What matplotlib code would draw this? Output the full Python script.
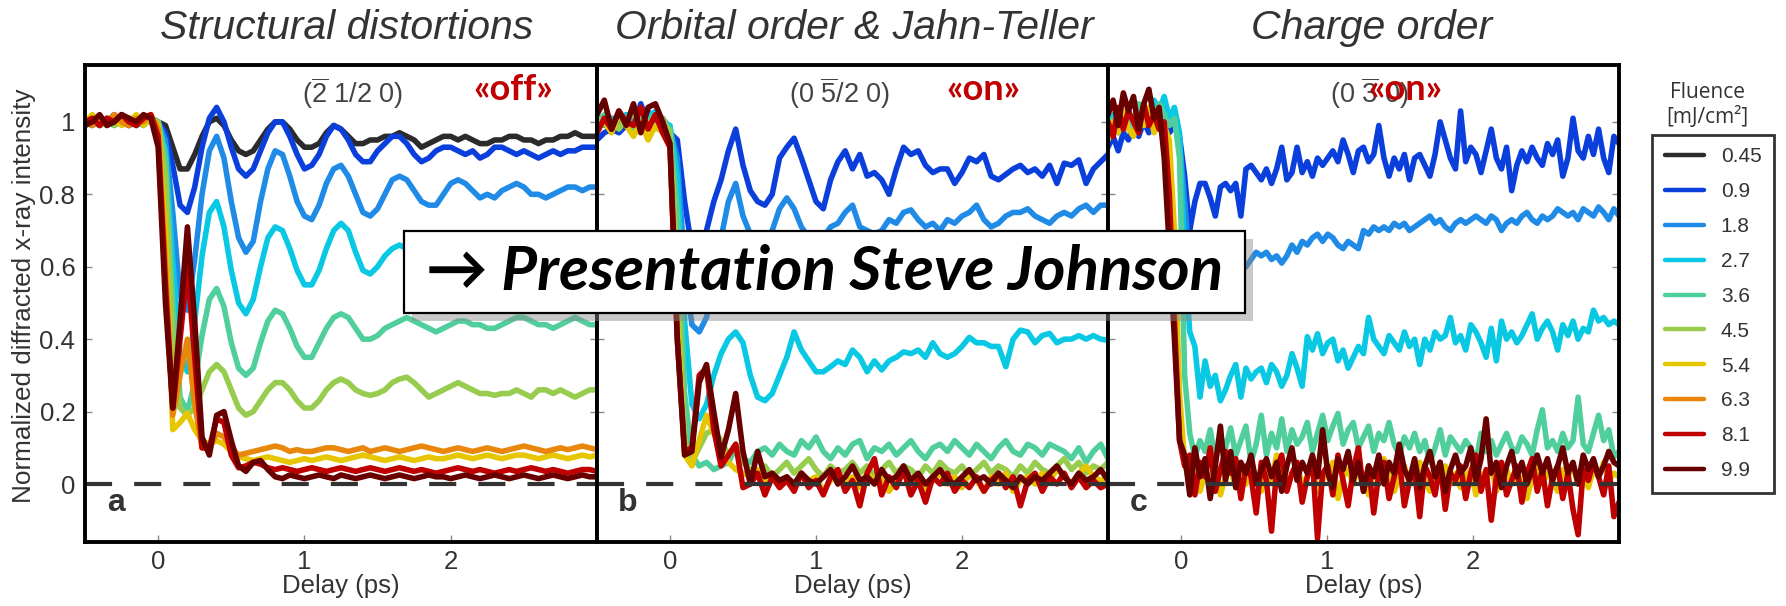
import numpy as np
import matplotlib
matplotlib.use("Agg")
import matplotlib.pyplot as plt
from matplotlib.lines import Line2D
from matplotlib.patches import Rectangle
import matplotlib.patheffects as pe

plt.rcParams["font.family"] = ["Liberation Sans", "DejaVu Sans"]
plt.rcParams["mathtext.fontset"] = "custom"
plt.rcParams["mathtext.rm"] = "Liberation Sans"
plt.rcParams["mathtext.it"] = "Liberation Sans:italic"
plt.rcParams["mathtext.bf"] = "Liberation Sans:bold"

W, H = 1786, 606
XLIM = (-0.5, 3.0)
YLIM = (-0.16, 1.157)

FLUENCE = ["0.45", "0.9", "1.8", "2.7", "3.6", "4.5", "5.4", "6.3", "8.1", "9.9"]
COLORS = ["#2b2b2b", "#0b3fdc", "#1f8be6", "#09c8e3", "#50cf9d",
          "#98cc4f", "#e6c600", "#e8870a", "#bf0000", "#680000"]

# panel a: delay -0.5 .. 3.0 ps, step 0.05
A_045 = [1.00, 0.99, 1.01, 1.00, 1.00, 1.01, 0.99, 1.00, 1.01, 1.01, 1.00,
         0.99, 0.93, 0.87, 0.87, 0.91, 0.96, 1.00, 1.01, 0.99, 0.95,
         0.92, 0.91, 0.92, 0.95, 0.98, 1.00, 1.00, 0.98, 0.95, 0.93,
         0.93, 0.94, 0.97, 0.99, 0.98, 0.96, 0.94, 0.94, 0.95, 0.95,
         0.96, 0.96, 0.97, 0.96, 0.95, 0.93, 0.94, 0.95, 0.96, 0.96,
         0.95, 0.96, 0.95, 0.94, 0.94, 0.95, 0.95, 0.96, 0.96, 0.95,
         0.95, 0.94, 0.95, 0.95, 0.96, 0.96, 0.97, 0.96, 0.96, 0.96]
A_09 = [1.00, 1.01, 0.99, 1.00, 1.02, 1.00, 0.99, 1.01, 1.00, 1.01, 1.00,
        0.97, 0.88, 0.77, 0.75, 0.82, 0.93, 1.01, 1.04, 1.00, 0.93,
        0.87, 0.85, 0.87, 0.92, 0.97, 1.00, 1.00, 0.96, 0.91, 0.87,
        0.88, 0.91, 0.96, 0.99, 0.98, 0.95, 0.91, 0.89, 0.89, 0.92,
        0.94, 0.96, 0.96, 0.94, 0.91, 0.89, 0.90, 0.92, 0.93, 0.93,
        0.92, 0.91, 0.92, 0.90, 0.91, 0.93, 0.93, 0.92, 0.91, 0.92,
        0.91, 0.90, 0.91, 0.92, 0.91, 0.92, 0.92, 0.93, 0.93, 0.93]
A_18 = [1.01, 1.00, 0.99, 1.01, 1.00, 1.00, 1.01, 0.99, 1.00, 1.01, 1.00,
        0.95, 0.75, 0.52, 0.48, 0.62, 0.80, 0.92, 0.96, 0.90, 0.78,
        0.68, 0.64, 0.67, 0.78, 0.87, 0.92, 0.91, 0.85, 0.78, 0.74,
        0.73, 0.77, 0.83, 0.87, 0.88, 0.85, 0.80, 0.75, 0.74, 0.76,
        0.80, 0.84, 0.85, 0.84, 0.81, 0.78, 0.77, 0.77, 0.80, 0.83,
        0.84, 0.83, 0.81, 0.79, 0.80, 0.79, 0.81, 0.82, 0.83, 0.82,
        0.80, 0.80, 0.79, 0.80, 0.81, 0.82, 0.82, 0.81, 0.82, 0.82]
A_27 = [0.99, 1.00, 1.01, 1.00, 0.99, 1.01, 1.00, 1.00, 0.99, 1.01, 1.00,
        0.92, 0.62, 0.36, 0.31, 0.45, 0.63, 0.75, 0.78, 0.71, 0.59,
        0.50, 0.47, 0.51, 0.60, 0.68, 0.71, 0.70, 0.65, 0.59, 0.55,
        0.55, 0.59, 0.65, 0.70, 0.72, 0.70, 0.64, 0.59, 0.58, 0.60,
        0.63, 0.65, 0.66, 0.65, 0.63, 0.62, 0.63, 0.64, 0.65, 0.65,
        0.64, 0.64, 0.65, 0.64, 0.64, 0.65, 0.65, 0.64, 0.65, 0.65,
        0.64, 0.65, 0.65, 0.66, 0.65, 0.65, 0.66, 0.65, 0.66, 0.66]
A_36 = [1.00, 1.01, 1.00, 0.99, 1.01, 1.00, 1.01, 0.99, 1.00, 1.00, 1.00,
        0.90, 0.50, 0.24, 0.20, 0.28, 0.41, 0.51, 0.54, 0.49, 0.39,
        0.32, 0.30, 0.32, 0.39, 0.45, 0.48, 0.47, 0.43, 0.38, 0.35,
        0.35, 0.39, 0.43, 0.46, 0.47, 0.46, 0.43, 0.40, 0.40, 0.41,
        0.43, 0.44, 0.45, 0.46, 0.45, 0.44, 0.43, 0.42, 0.43, 0.44,
        0.45, 0.45, 0.44, 0.44, 0.43, 0.43, 0.44, 0.45, 0.46, 0.46,
        0.45, 0.44, 0.44, 0.43, 0.44, 0.45, 0.46, 0.45, 0.44, 0.44]
A_45 = [1.01, 1.00, 1.00, 1.01, 0.99, 1.00, 1.01, 1.00, 1.00, 1.01, 1.00,
        0.85, 0.40, 0.21, 0.19, 0.21, 0.26, 0.31, 0.33, 0.31, 0.26,
        0.21, 0.19, 0.20, 0.23, 0.26, 0.28, 0.28, 0.26, 0.23, 0.21,
        0.21, 0.23, 0.26, 0.28, 0.29, 0.28, 0.26, 0.25, 0.245, 0.25,
        0.26, 0.28, 0.29, 0.295, 0.28, 0.26, 0.24, 0.25, 0.26, 0.27,
        0.28, 0.27, 0.26, 0.25, 0.25, 0.245, 0.25, 0.25, 0.26, 0.25,
        0.24, 0.26, 0.26, 0.25, 0.26, 0.25, 0.24, 0.25, 0.26, 0.26]
A_54 = [1.00, 1.02, 0.99, 1.00, 1.01, 0.99, 1.00, 1.02, 0.99, 1.01, 0.99,
        0.70, 0.15, 0.17, 0.195, 0.15, 0.12, 0.11, 0.12, 0.11, 0.09,
        0.075, 0.07, 0.065, 0.07, 0.075, 0.07, 0.065, 0.06, 0.065, 0.07,
        0.065, 0.07, 0.075, 0.07, 0.065, 0.07, 0.075, 0.08, 0.075, 0.07,
        0.065, 0.07, 0.075, 0.07, 0.065, 0.07, 0.075, 0.07, 0.07, 0.075,
        0.08, 0.075, 0.07, 0.075, 0.08, 0.075, 0.07, 0.075, 0.08, 0.08,
        0.075, 0.07, 0.075, 0.08, 0.075, 0.07, 0.075, 0.08, 0.075, 0.08]
A_63 = [1.00, 0.99, 1.01, 1.00, 1.02, 1.00, 0.99, 1.01, 1.00, 1.02, 0.98,
        0.60, 0.19, 0.30, 0.40, 0.22, 0.10, 0.10, 0.14, 0.13, 0.10,
        0.08, 0.085, 0.09, 0.095, 0.10, 0.105, 0.10, 0.09, 0.095, 0.09,
        0.09, 0.095, 0.10, 0.10, 0.095, 0.09, 0.095, 0.10, 0.09, 0.095,
        0.10, 0.095, 0.09, 0.095, 0.10, 0.105, 0.10, 0.095, 0.09, 0.095,
        0.10, 0.095, 0.09, 0.095, 0.10, 0.095, 0.09, 0.095, 0.10, 0.105,
        0.10, 0.095, 0.09, 0.095, 0.10, 0.095, 0.10, 0.105, 0.10, 0.095]
A_81 = [1.00, 1.01, 0.99, 1.01, 1.00, 1.02, 1.00, 0.99, 1.01, 1.02, 0.96,
        0.55, 0.21, 0.40, 0.60, 0.35, 0.10, 0.10, 0.18, 0.17, 0.08,
        0.045, 0.05, 0.06, 0.055, 0.045, 0.04, 0.045, 0.04, 0.035, 0.04,
        0.045, 0.04, 0.035, 0.04, 0.045, 0.04, 0.035, 0.04, 0.045, 0.04,
        0.035, 0.04, 0.045, 0.04, 0.035, 0.04, 0.035, 0.03, 0.035, 0.04,
        0.045, 0.04, 0.035, 0.04, 0.035, 0.03, 0.035, 0.04, 0.035, 0.04,
        0.045, 0.04, 0.035, 0.04, 0.035, 0.03, 0.035, 0.04, 0.04, 0.035]
A_99 = [0.99, 1.00, 1.02, 0.99, 1.00, 1.02, 1.01, 1.00, 1.02, 1.01, 0.93,
        0.50, 0.21, 0.45, 0.71, 0.45, 0.13, 0.08, 0.19, 0.20, 0.12,
        0.05, 0.035, 0.06, 0.065, 0.04, 0.02, 0.015, 0.025, 0.02, 0.015,
        0.02, 0.025, 0.02, 0.015, 0.025, 0.02, 0.015, 0.02, 0.025, 0.02,
        0.015, 0.02, 0.025, 0.02, 0.015, 0.02, 0.025, 0.02, 0.02, 0.015,
        0.02, 0.025, 0.02, 0.015, 0.02, 0.025, 0.02, 0.015, 0.02, 0.025,
        0.02, 0.015, 0.02, 0.025, 0.02, 0.015, 0.02, 0.025, 0.02, 0.02]

# panel b: delay -0.5 .. 3.0 ps, step 0.05
B_09 = [0.95, 0.97, 0.98, 0.97, 0.99, 0.98, 1.05, 0.99, 1.00, 0.98, 0.97,
        0.95, 0.78, 0.65, 0.64, 0.70, 0.78, 0.84, 0.92, 0.98, 0.88,
        0.81, 0.78, 0.77, 0.80, 0.90, 0.93, 0.955, 0.90, 0.84, 0.78,
        0.76, 0.84, 0.89, 0.92, 0.87, 0.91, 0.85, 0.86, 0.84, 0.80,
        0.87, 0.93, 0.91, 0.92, 0.88, 0.86, 0.87, 0.87, 0.83, 0.86,
        0.90, 0.89, 0.91, 0.85, 0.84, 0.855, 0.87, 0.88, 0.86, 0.87,
        0.85, 0.88, 0.83, 0.886, 0.88, 0.895, 0.83, 0.87, 0.89, 0.91]
B_18 = [0.99, 1.00, 1.01, 0.99, 1.02, 1.00, 0.99, 1.03, 1.00, 1.01, 0.98,
        0.90, 0.60, 0.44, 0.42, 0.46, 0.55, 0.68, 0.78, 0.83, 0.74,
        0.69, 0.66, 0.64, 0.70, 0.76, 0.79, 0.76, 0.71, 0.68, 0.66,
        0.68, 0.71, 0.72, 0.75, 0.77, 0.71, 0.70, 0.69, 0.70, 0.73,
        0.72, 0.75, 0.757, 0.73, 0.71, 0.72, 0.70, 0.73, 0.72, 0.74,
        0.75, 0.77, 0.73, 0.71, 0.72, 0.74, 0.75, 0.75, 0.76, 0.74,
        0.73, 0.72, 0.74, 0.75, 0.74, 0.76, 0.77, 0.75, 0.77, 0.77]
B_27 = [1.00, 0.99, 1.01, 1.00, 1.02, 0.99, 1.00, 1.01, 1.03, 1.00, 0.99,
        0.85, 0.45, 0.22, 0.18, 0.22, 0.30, 0.36, 0.40, 0.42, 0.39,
        0.30, 0.24, 0.23, 0.25, 0.30, 0.35, 0.42, 0.37, 0.34, 0.31,
        0.31, 0.324, 0.34, 0.33, 0.37, 0.35, 0.31, 0.34, 0.315, 0.34,
        0.35, 0.365, 0.36, 0.37, 0.35, 0.39, 0.36, 0.35, 0.36, 0.38,
        0.405, 0.39, 0.39, 0.38, 0.38, 0.324, 0.40, 0.425, 0.42, 0.39,
        0.41, 0.416, 0.39, 0.40, 0.40, 0.41, 0.40, 0.41, 0.40, 0.397]
B_36 = [1.00, 1.02, 0.99, 1.01, 1.00, 0.98, 1.01, 1.00, 1.02, 0.99, 0.98,
        0.75, 0.25, 0.08, 0.05, 0.06, 0.04, 0.05, 0.06, 0.10, 0.07,
        0.06, 0.09, 0.10, 0.08, 0.11, 0.09, 0.08, 0.12, 0.10, 0.13,
        0.09, 0.07, 0.10, 0.08, 0.11, 0.12, 0.07, 0.10, 0.09, 0.11,
        0.08, 0.10, 0.12, 0.09, 0.07, 0.10, 0.11, 0.09, 0.12, 0.10,
        0.08, 0.11, 0.09, 0.07, 0.10, 0.12, 0.09, 0.08, 0.11, 0.10,
        0.08, 0.11, 0.10, 0.09, 0.07, 0.10, 0.06, 0.09, 0.11, 0.07]
B_45 = [0.99, 1.01, 1.00, 0.98, 1.01, 1.02, 0.99, 1.00, 0.98, 1.01, 0.97,
        0.60, 0.12, 0.06, 0.10, 0.14, 0.15, 0.12, 0.08, 0.11, 0.06,
        0.04, 0.03, 0.05, 0.02, 0.04, 0.06, 0.03, 0.05, 0.07, 0.04,
        0.02, 0.05, 0.03, 0.04, 0.06, 0.03, 0.05, 0.02, 0.04, 0.06,
        0.03, 0.05, 0.04, 0.02, 0.05, 0.03, 0.06, 0.04, 0.03, 0.05,
        0.02, 0.04, 0.06, 0.03, 0.05, 0.04, 0.02, 0.05, 0.03, 0.06,
        0.04, 0.03, 0.05, 0.07, 0.04, 0.06, 0.03, 0.05, 0.04, 0.06]
B_54 = [0.98, 1.00, 0.97, 1.02, 0.99, 0.96, 1.00, 0.95, 0.99, 0.97, 0.93,
        0.45, 0.08, 0.05, 0.12, 0.19, 0.14, 0.10, 0.06, 0.04, 0.03,
        0.02, 0.04, 0.01, 0.03, 0.00, 0.02, -0.01, 0.03, 0.01, 0.02,
        -0.02, 0.01, 0.03, 0.00, 0.02, -0.01, 0.03, 0.01, 0.02, -0.02,
        0.01, 0.03, 0.00, 0.02, -0.02, 0.01, 0.03, 0.00, 0.02, -0.01,
        0.03, 0.01, -0.02, 0.02, 0.00, 0.03, -0.02, 0.01, 0.02, 0.00,
        0.03, 0.01, 0.04, 0.02, 0.00, 0.03, 0.05, 0.02, 0.01, 0.02]
B_81 = [0.97, 1.01, 0.98, 1.03, 1.00, 0.99, 1.04, 0.98, 1.02, 0.97, 0.93,
        0.40, 0.09, 0.10, 0.30, 0.32, 0.15, 0.05, 0.08, 0.11, -0.01,
        0.00, 0.03, -0.03, 0.02, -0.01, 0.01, -0.02, 0.03, -0.01, 0.01,
        -0.03, 0.02, 0.04, -0.02, 0.01, -0.06, 0.03, 0.07, -0.03, 0.02,
        -0.01, 0.04, -0.03, 0.01, -0.05, 0.02, 0.00, 0.03, -0.02, 0.01,
        -0.01, 0.02, -0.02, 0.01, 0.03, -0.01, 0.02, -0.06, 0.01, 0.03,
        -0.02, 0.02, 0.00, 0.03, -0.01, 0.02, -0.01, 0.01, -0.01, 0.00]
B_99 = [1.02, 1.06, 0.98, 1.03, 0.99, 1.05, 0.97, 1.04, 1.05, 1.00, 0.94,
        0.40, 0.08, 0.09, 0.28, 0.33, 0.20, 0.075, 0.15, 0.25, 0.09,
        0.00, 0.09, 0.02, 0.03, 0.01, 0.02, 0.00, 0.03, 0.01, 0.00,
        0.02, 0.04, 0.00, 0.02, 0.05, 0.01, 0.02, 0.00, 0.04, 0.01,
        0.02, 0.05, 0.01, 0.03, 0.00, 0.02, 0.04, 0.01, 0.00, 0.02,
        0.04, 0.01, 0.02, 0.00, 0.03, 0.01, -0.01, 0.02, 0.00, 0.02,
        0.01, 0.03, 0.05, 0.02, 0.00, 0.03, 0.01, 0.02, 0.04, 0.01]

# panel c: delay -0.5 .. 3.0 ps, step 0.035
C_09 = [0.93, 0.96, 0.92, 0.97, 0.95, 0.99, 0.96, 1.00, 0.97, 1.02,
        0.98, 1.01, 0.97, 0.99, 0.96, 0.85, 0.70, 0.78, 0.83, 0.83,
        0.79, 0.74, 0.82, 0.83, 0.81, 0.83, 0.74, 0.87, 0.88, 0.86,
        0.84, 0.87, 0.83, 0.87, 0.93, 0.84, 0.86, 0.93, 0.86, 0.89,
        0.85, 0.90, 0.88, 0.90, 0.92, 0.89, 0.95, 0.91, 0.86, 0.92,
        0.93, 0.89, 0.91, 0.99, 0.90, 0.85, 0.90, 0.87, 0.91, 0.84,
        0.90, 0.91, 0.88, 0.85, 0.91, 1.00, 0.95, 0.90, 0.87, 1.03,
        0.89, 0.93, 0.91, 0.86, 0.92, 0.98, 0.90, 0.87, 0.93, 0.81,
        0.88, 0.92, 0.89, 0.93, 0.90, 0.88, 0.94, 0.91, 0.95, 0.85,
        0.90, 1.01, 0.92, 0.90, 0.96, 0.91, 0.98, 0.90, 0.86, 0.96,
        0.94]
C_18 = [0.98, 1.00, 0.97, 1.02, 0.99, 1.01, 0.98, 1.03, 1.00, 1.04,
        1.01, 1.03, 0.99, 1.00, 0.95, 0.78, 0.60, 0.55, 0.53, 0.54,
        0.55, 0.54, 0.56, 0.55, 0.57, 0.58, 0.59, 0.60, 0.62, 0.64,
        0.63, 0.64, 0.62, 0.63, 0.61, 0.63, 0.66, 0.64, 0.67, 0.66,
        0.68, 0.69, 0.67, 0.69, 0.68, 0.66, 0.65, 0.67, 0.66, 0.65,
        0.70, 0.69, 0.71, 0.70, 0.71, 0.70, 0.72, 0.71, 0.72, 0.70,
        0.71, 0.72, 0.73, 0.74, 0.72, 0.73, 0.71, 0.70, 0.72, 0.73,
        0.72, 0.73, 0.74, 0.73, 0.72, 0.74, 0.73, 0.70, 0.72, 0.73,
        0.72, 0.74, 0.75, 0.73, 0.72, 0.74, 0.73, 0.74, 0.76, 0.75,
        0.74, 0.75, 0.73, 0.76, 0.75, 0.74, 0.765, 0.75, 0.73, 0.76,
        0.74]
C_27 = [1.00, 1.02, 0.99, 1.03, 0.98, 1.01, 1.04, 0.99, 1.02, 1.06,
        1.03, 1.07, 1.01, 1.04, 0.97, 0.62, 0.42, 0.38, 0.24, 0.34,
        0.27, 0.30, 0.23, 0.26, 0.30, 0.33, 0.24, 0.32, 0.29, 0.31,
        0.32, 0.28, 0.33, 0.31, 0.27, 0.30, 0.36, 0.32, 0.27, 0.407,
        0.37, 0.415, 0.36, 0.39, 0.40, 0.34, 0.37, 0.32, 0.35, 0.38,
        0.36, 0.46, 0.40, 0.38, 0.36, 0.41, 0.39, 0.37, 0.42, 0.38,
        0.40, 0.33, 0.40, 0.37, 0.42, 0.40, 0.41, 0.46, 0.39, 0.41,
        0.37, 0.44, 0.42, 0.39, 0.35, 0.43, 0.34, 0.45, 0.40, 0.42,
        0.39, 0.41, 0.44, 0.47, 0.40, 0.43, 0.45, 0.42, 0.37, 0.44,
        0.41, 0.45, 0.40, 0.43, 0.42, 0.48, 0.45, 0.46, 0.44, 0.45,
        0.44]
C_36 = [1.01, 0.99, 1.03, 1.00, 1.02, 0.98, 1.05, 1.01, 1.03, 1.00,
        1.05, 1.02, 0.99, 1.01, 0.90, 0.30, 0.14, 0.075, 0.12, 0.09,
        0.15, 0.07, 0.13, 0.10, 0.155, 0.08, 0.12, 0.16, 0.06, 0.11,
        0.19, 0.08, 0.14, 0.10, 0.18, 0.09, 0.15, 0.11, 0.13, 0.17,
        0.09, 0.14, 0.19, 0.12, 0.16, 0.195, 0.11, 0.15, 0.17, 0.10,
        0.13, 0.16, 0.09, 0.14, 0.12, 0.17, 0.11, 0.08, 0.13, 0.10,
        0.14, 0.09, 0.12, 0.06, 0.10, 0.15, 0.08, 0.13, 0.11, 0.09,
        0.12, 0.10, 0.06, 0.14, 0.09, 0.12, 0.08, 0.11, 0.14, 0.10,
        0.09, 0.13, 0.11, 0.08, 0.15, 0.205, 0.10, 0.12, 0.09, 0.14,
        0.10, 0.12, 0.24, 0.11, 0.09, 0.14, 0.19, 0.12, 0.15, 0.075,
        0.09]
C_54 = [0.95, 1.00, 0.97, 1.03, 0.98, 0.96, 1.02, 0.99, 1.04, 0.97,
        1.00, 0.99, 0.95, 0.70, 0.25, 0.06, 0.00, 0.04, -0.02, 0.03,
        0.01, 0.05, -0.03, 0.02, 0.04, -0.01, 0.03, 0.00, 0.06, 0.02,
        -0.02, 0.04, 0.01, 0.08, 0.02, -0.01, 0.03, 0.05, 0.00, 0.02,
        0.04, -0.02, 0.01, 0.03, 0.06, -0.04, 0.02, 0.04, 0.00, 0.05,
        0.02, -0.03, 0.04, 0.01, 0.07, 0.03, -0.02, 0.02, 0.05, 0.00,
        0.03, 0.06, 0.01, -0.02, 0.04, 0.02, 0.05, 0.00, 0.03, -0.01,
        0.02, 0.04, -0.03, 0.03, 0.01, 0.05, -0.02, 0.02, 0.04, 0.00,
        0.03, 0.01, -0.04, 0.02, 0.05, 0.00, 0.03, 0.01, -0.02, 0.04,
        0.02, 0.05, 0.00, 0.03, -0.01, 0.04, 0.02, 0.06, 0.01, 0.03,
        0.02]
C_81 = [1.00, 0.96, 1.04, 0.98, 1.03, 1.00, 0.97, 1.05, 0.99, 1.02,
        0.98, 1.00, 0.80, 0.45, 0.12, 0.05, 0.08, -0.03, 0.06, 0.02,
        0.10, -0.02, 0.04, 0.09, 0.03, 0.07, -0.04, 0.05, 0.02, -0.08,
        0.06, 0.01, -0.13, 0.04, 0.08, -0.02, 0.03, 0.06, -0.05, 0.02,
        0.07, -0.15, 0.03, 0.05, -0.03, 0.08, 0.01, -0.06, 0.04, 0.10,
        -0.02, 0.05, -0.08, 0.03, 0.06, -0.04, 0.02, 0.07, -0.06, 0.01,
        0.04, -0.09, 0.05, 0.02, -0.03, 0.06, -0.07, 0.03, 0.01, 0.05,
        -0.04, 0.03, 0.08, -0.02, 0.04, -0.10, 0.02, 0.06, -0.03, 0.01,
        0.05, -0.05, 0.03, 0.07, -0.02, 0.04, -0.06, 0.02, 0.05, -0.04,
        0.03, -0.07, -0.14, 0.04, 0.01, 0.06, 0.02, -0.03, 0.05, -0.09,
        -0.05]
C_99 = [1.02, 1.06, 0.99, 1.08, 1.03, 1.07, 0.98, 1.05, 1.09, 1.01,
        1.04, 0.90, 0.65, 0.40, 0.12, 0.08, -0.03, 0.10, 0.02, 0.07,
        -0.04, 0.05, 0.16, 0.01, 0.09, -0.01, 0.06, 0.03, 0.08, 0.00,
        0.04, 0.07, 0.02, 0.06, -0.02, 0.05, 0.10, 0.01, 0.06, 0.03,
        0.08, 0.02, 0.15, 0.03, -0.01, 0.07, 0.04, 0.09, 0.01, 0.06,
        -0.02, 0.05, 0.02, 0.08, 0.00, 0.06, 0.03, 0.11, 0.04, 0.01,
        0.07, -0.01, 0.05, 0.09, 0.02, 0.06, -0.02, 0.04, 0.08, 0.03,
        0.05, 0.10, 0.01, 0.07, 0.18, 0.03, 0.06, -0.01, 0.05, 0.09,
        0.02, 0.06, 0.00, 0.04, 0.08, 0.03, 0.07, 0.01, 0.05, 0.10,
        0.03, 0.06, 0.00, 0.08, 0.04, 0.07, 0.02, 0.05, 0.09, 0.06,
        0.05]

PANEL_A = {"0.45": A_045, "0.9": A_09, "1.8": A_18, "2.7": A_27, "3.6": A_36,
           "4.5": A_45, "5.4": A_54, "6.3": A_63, "8.1": A_81, "9.9": A_99}
PANEL_B = {"0.9": B_09, "1.8": B_18, "2.7": B_27, "3.6": B_36,
           "4.5": B_45, "5.4": B_54, "8.1": B_81, "9.9": B_99}
PANEL_C = {"0.9": C_09, "1.8": C_18, "2.7": C_27, "3.6": C_36,
           "5.4": C_54, "8.1": C_81, "9.9": C_99}

TITLES = ["Structural distortions", "Orbital order & Jahn-Teller", "Charge order"]
TITLE_X = [347, 854, 1372]
HKL = [r"$\mathrm{(\overline{2}\ 1/2\ 0)}$", r"$\mathrm{(0\ \overline{5}/2\ 0)}$",
       r"$\mathrm{(0\ \overline{3}\ 0)}$"]
HKL_X = [1.33, 1.16, 1.29]
TAGS = ["\u00aboff\u00bb", "\u00abon\u00bb", "\u00abon\u00bb"]
TAG_X = [2.43, 2.15, 1.54]
LETTERS = ["a", "b", "c"]
PANEL_LEFT = [85, 597, 1108]
PANEL_W = [512, 511, 511]

TEXT = "#333333"


def draw_panel(ax, series, k):
    for f, c in zip(FLUENCE, COLORS):
        if f not in series:
            continue
        y = np.asarray(series[f])
        t = np.linspace(XLIM[0], XLIM[1], len(y))
        ax.plot(t, y, color=c, lw=4, solid_joinstyle="round",
                solid_capstyle="round", zorder=3)
    ax.axhline(0, color="#333333", lw=3, dashes=(6.5, 5.3), zorder=4)

    ax.set_xlim(*XLIM)
    ax.set_ylim(*YLIM)
    ax.set_xticks([0, 1, 2])
    ax.set_yticks([0, 0.2, 0.4, 0.6, 0.8, 1.0])
    ax.set_yticklabels(["0", "0.2", "0.4", "0.6", "0.8", "1"])
    ax.tick_params(direction="in", length=5, width=1, color="#888888",
                   labelsize=18.5, labelcolor=TEXT, left=True, right=True,
                   labelleft=(k == 0), pad=7)
    ax.tick_params(axis="x", pad=6)
    for s in ax.spines.values():
        s.set_linewidth(2.8)
        s.set_color("black")
        s.set_zorder(6)
    ax.set_xlabel("Delay (ps)", fontsize=18.5, color=TEXT, labelpad=0)

    ax.text(HKL_X[k], 1.08, HKL[k], fontsize=19.5, color="#444444",
            ha="center", va="center", zorder=5)
    ax.text(TAG_X[k], 1.09, TAGS[k], fontsize=26, color="#c00000",
            fontweight="bold", family=["Lato", "DejaVu Sans"],
            ha="center", va="center", zorder=5)
    ax.text(0.06, 0.05, LETTERS[k], transform=ax.transAxes, fontsize=23,
            fontweight="bold", color=TEXT, ha="center", va="bottom", zorder=5)

    fig.text(TITLE_X[k] / W, 1 - 28 / H, TITLES[k], fontsize=29.5, style="italic",
             color="#333333", ha="center", va="center",
             family=["Liberation Sans Narrow", "Liberation Sans", "DejaVu Sans"])


fig = plt.figure(figsize=(W / 100, H / 100), dpi=100, facecolor="white")
bottom, top = 542, 65
for k, series in enumerate([PANEL_A, PANEL_B, PANEL_C]):
    ax = fig.add_axes([PANEL_LEFT[k] / W, 1 - bottom / H, PANEL_W[k] / W, (bottom - top) / H])
    draw_panel(ax, series, k)

fig.text(24 / W, 1 - 296 / H, "Normalized diffracted x-ray intensity", rotation=90,
         fontsize=18.8, color=TEXT, ha="center", va="center")

# legend
handles = [Line2D([], [], color=c, lw=3.2, solid_capstyle="round") for c in COLORS]
leg = fig.legend(handles, FLUENCE, loc="upper left",
                 bbox_to_anchor=(1652 / W, 1 - 135 / H), bbox_transform=fig.transFigure,
                 fontsize=15, handlelength=1.9, handletextpad=0.8, labelspacing=0.76,
                 borderpad=0.6, borderaxespad=0, fancybox=False, frameon=True)
leg.get_frame().set_edgecolor("black")
leg.get_frame().set_linewidth(2)
for txt in leg.get_texts():
    txt.set_color(TEXT)
fig.text(1707 / W, 1 - 92 / H, "Fluence", fontsize=15, color=TEXT,
         ha="center", va="center", family=["Open Sans", "DejaVu Sans"])
fig.text(1707 / W, 1 - 117 / H, "[mJ/cm\u00b2]", fontsize=15, color=TEXT,
         ha="center", va="center", family=["Open Sans", "DejaVu Sans"])

# annotation box
box = Rectangle((404 / W, 1 - 313 / H), 841 / W, 82 / H, transform=fig.transFigure,
                facecolor="white", edgecolor="black", lw=1.6, zorder=10,
                path_effects=[pe.SimplePatchShadow(offset=(6, -6), shadow_rgbFace="#888888",
                                                   alpha=0.45), pe.Normal()])
fig.add_artist(box)
fig.text(824.5 / W, 1 - 272 / H, "\u2192 Presentation Steve Johnson", fontsize=44.5,
         fontweight="bold", style="italic", color="black", ha="center", va="center",
         family=["Lato", "DejaVu Sans"], zorder=11)

fig.savefig("out.png", dpi=100, facecolor="white")
